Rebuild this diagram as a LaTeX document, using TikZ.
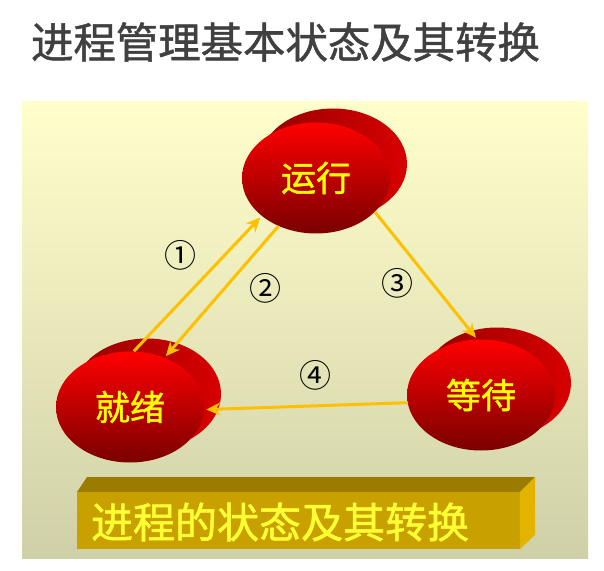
\documentclass[tikz,border=0pt]{standalone}
\usepackage{fontspec}
\usepackage{tikz}
\newfontfamily\cjk{Noto Sans CJK SC}
\newfontfamily\cjkheavy{Noto Sans CJK SC}[FakeBold=1.2]
\usetikzlibrary{shapes.geometric,arrows.meta}
\definecolor{panelTop}{HTML}{FFFFCC}
\definecolor{panelBottom}{HTML}{D0D0A8}
\definecolor{stateTop}{HTML}{FF0000}
\definecolor{stateMid}{HTML}{D80000}
\definecolor{stateBottom}{HTML}{7A0000}
\definecolor{shadowLeft}{HTML}{960000}
\definecolor{shadowRight}{HTML}{D80000}
\definecolor{stateText}{HTML}{FFFF00}
\definecolor{arrowGold}{HTML}{FFC000}
\definecolor{titleGrey}{HTML}{404040}
\definecolor{barFront}{HTML}{C8A000}
\definecolor{barTop}{HTML}{9C7C00}
\definecolor{barSide}{HTML}{E0B400}
\definecolor{barText}{HTML}{FFFF33}

\begin{document}
\begin{tikzpicture}[x=0.5pt, y=-0.5pt, shorten >=1pt,
state_style/.style={ellipse,draw=none,inner sep=0pt,minimum width=74pt,minimum height=55.5pt,
  top color=stateTop,middle color=stateMid,bottom color=stateBottom,text=stateText,font=\cjkheavy\fontsize{17.5}{17.5}\selectfont},
shadow_style/.style={ellipse,draw=none,inner sep=0pt,minimum width=74pt,minimum height=55.5pt,
  left color=shadowLeft,right color=shadowRight},
edge_style/.style={draw=arrowGold, line width=1.5pt, -{Stealth[length=7pt,width=6.5pt]}},
label_style/.style={font=\cjk\fontsize{16}{16}\selectfont}]
\useasboundingbox (0,0) rectangle (604,571);

% title and panel
\node[anchor=west, text=titleGrey, font=\cjkheavy\fontsize{21.2}{21.2}\selectfont] (title) at (24,42) {进程管理基本状态及其转换};
\shade[top color=panelTop, bottom color=panelBottom] (22,102) rectangle (588,558);

% states
\node[shadow_style] (run_back) at (333,164) {};
\node[shadow_style] (ready_back) at (147,394) {};
\node[shadow_style] (wait_back) at (497,383) {};
\node[state_style] (run) at (316,178) {运行};
\node[state_style] (ready) at (130,407) {就绪};
\node[state_style] (wait) at (481,395) {等待};

% transitions
\draw[edge_style]  (ready.86) -- (run.215);
\draw[edge_style]  (run.232) -- (ready.55);
\draw[edge_style]  (run.330) -- (wait.94);
\draw[edge_style]  (wait.186) -- (ready.358);

\node[label_style] (one) at (180,255) {①};
\node[label_style] (two) at (265,288) {②};
\node[label_style] (three) at (397,283) {③};
\node[label_style] (four) at (315,375) {④};

% caption bar
\fill[barTop] (77,492) -- (87,477) -- (535,477) -- (520,492) -- cycle;
\fill[barSide] (520,492) -- (535,477) -- (535,535) -- (520,549) -- cycle;
\fill[barFront] (77,492) rectangle (520,549);
\node[anchor=west, text=barText, font=\cjkheavy\fontsize{21}{21}\selectfont] (caption) at (84,522) {进程的状态及其转换};

\end{tikzpicture}
\end{document}
